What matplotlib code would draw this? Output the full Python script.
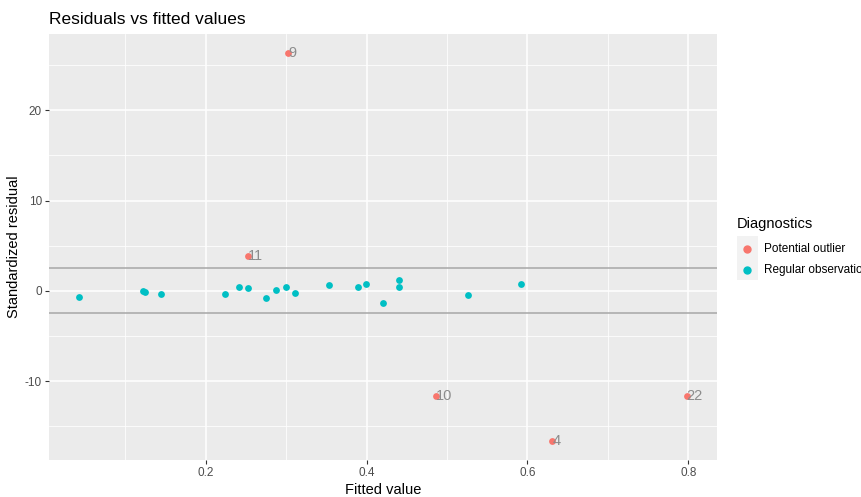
import numpy as np
import matplotlib
matplotlib.use("Agg")
import matplotlib.pyplot as plt
from matplotlib.lines import Line2D
from matplotlib.patches import Rectangle

plt.rcParams['font.family'] = ['Liberation Sans', 'DejaVu Sans']
plt.rcParams['axes.unicode_minus'] = False

#-----------------------------------------------------------------------------
# data

outlier_fitted = [0.303, 0.2525, 0.486, 0.631, 0.798]
outlier_resid = [26.3, 3.9, -11.7, -16.6, -11.7]
outlier_labels = ["9", "11", "10", "4", "22"]

regular_fitted = [0.043, 0.1215, 0.125, 0.144, 0.2244, 0.2418, 0.253, 0.2752,
                  0.2872, 0.3004, 0.3107, 0.3529, 0.3893, 0.3996, 0.4207,
                  0.4405, 0.4405, 0.526, 0.592]
regular_resid = [-0.74, 0.03, -0.11, -0.4, -0.4, 0.44, 0.33, -0.81, 0.11, 0.44,
                 -0.29, 0.66, 0.44, 0.77, -1.33, 1.22, 0.41, -0.52, 0.77]

groups = ["Potential outlier", "Regular observation"]
colors = ["#F8766D", "#00BFC4"]
threshold = 2.5

#-----------------------------------------------------------------------------

W, H = 862, 497
fig = plt.figure(figsize=(W / 100, H / 100), dpi=100)
left, right, top, bottom = 49, 717, 34, 460
ax = fig.add_axes([left / W, 1 - bottom / H, (right - left) / W, (bottom - top) / H])

ax.set_facecolor("#EBEBEB")
for s in ax.spines.values():
    s.set_visible(False)

# ggplot style limits (5% expansion)
allx = np.array(outlier_fitted + regular_fitted)
ally = np.array(outlier_resid + regular_resid)
dx = (allx.max() - allx.min()) * 0.05
dy = (ally.max() - ally.min()) * 0.05
ax.set_xlim(allx.min() - dx, allx.max() + dx)
ax.set_ylim(ally.min() - dy, ally.max() + dy)

ax.set_xticks([0.2, 0.4, 0.6, 0.8])
ax.set_xticklabels(["0.2", "0.4", "0.6", "0.8"])
ax.set_yticks([-10, 0, 10, 20])
ax.set_xticks([0.1, 0.3, 0.5, 0.7], minor=True)
ax.set_yticks([-15, -5, 5, 15, 25], minor=True)
ax.grid(which="major", color="white", linewidth=1.1)
ax.grid(which="minor", color="white", linewidth=0.55)
ax.set_axisbelow(True)
ax.tick_params(which="major", length=3, color="#333333", labelcolor="#4D4D4D",
               labelsize=8.5, pad=2)
ax.tick_params(which="minor", length=0)

ax.axhline(threshold, color="#A6A6A6", linewidth=1.1, zorder=1.5)
ax.axhline(-threshold, color="#A6A6A6", linewidth=1.1, zorder=1.5)

ax.scatter(outlier_fitted, outlier_resid, s=24, color=colors[0], zorder=3, linewidths=0)
ax.scatter(regular_fitted, regular_resid, s=24, color=colors[1], zorder=3, linewidths=0)
for xv, yv, lab in zip(outlier_fitted, outlier_resid, outlier_labels):
    ax.text(xv, yv, lab, ha="left", va="center", fontsize=10.5, color="#8C8C8C", zorder=4)

ax.set_xlabel("Fitted value", fontsize=10.5, color="black", labelpad=3)
ax.set_ylabel("Standardized residual", fontsize=10.5, color="black", labelpad=3)
ax.set_title("Residuals vs fitted values", fontsize=12.5, loc="left", pad=7)

#-----------------------------------------------------------------------------
# legend drawn by hand, ggplot style

fig.text(737 / W, 1 - 224 / H, "Diagnostics", fontsize=10.5, ha="left", va="center")
fig.add_artist(Rectangle((737 / W, 1 - 280 / H), 21 / W, 44 / H,
                         transform=fig.transFigure, facecolor="#F2F2F2",
                         edgecolor="none"))
for i, (lab, col) in enumerate(zip(groups, colors)):
    yy = 1 - (249 + 21 * i) / H
    fig.add_artist(Line2D([747.5 / W], [yy], marker="o", markersize=5,
                          color=col, linestyle="none", transform=fig.transFigure))
    fig.text(764 / W, yy, lab, fontsize=8.5, ha="left", va="center")

fig.savefig("out.png", dpi=100)
